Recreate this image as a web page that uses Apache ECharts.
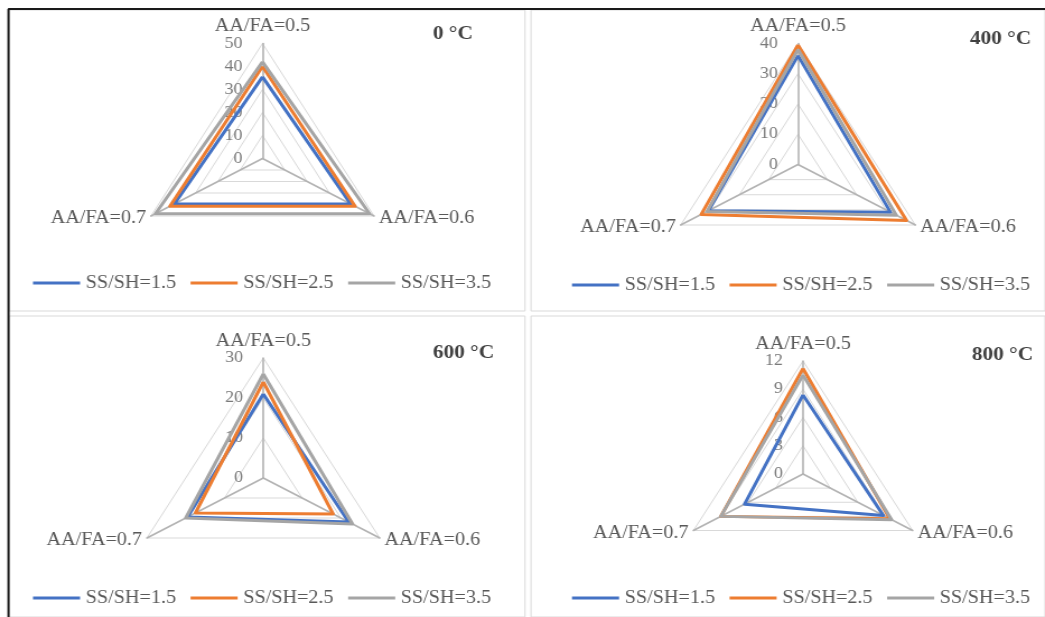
<!DOCTYPE html>
<html><head><meta charset="utf-8">
<script src="https://cdn.jsdelivr.net/npm/echarts@6/dist/echarts.min.js"></script>
<style>
html,body{margin:0;padding:0;background:#fff;overflow:hidden}
#wrap{width:1045px;height:617px;overflow:hidden;position:relative}
#c{width:933px;height:617px;transform:scaleX(1.12);transform-origin:0 0}
</style>
</head><body><div id="wrap"><div id="c"></div></div>
<script>
// ---- data (indicator order: AA/FA=0.5, AA/FA=0.6, AA/FA=0.7) ----
const indicatorNames = ['AA/FA=0.5', 'AA/FA=0.6', 'AA/FA=0.7'];
const seriesNames = ['SS/SH=1.5', 'SS/SH=2.5', 'SS/SH=3.5'];
const panelTitles = ['0 °C', '400 °C', '600 °C', '800 °C'];
const axisMax = [50, 40, 30, 12];
const axisSplit = [5, 4, 3, 4];

const t0_ss15 = [35.5, 39.5, 39.5];
const t0_ss25 = [40, 41.5, 41.5];
const t0_ss35 = [42, 48, 48];

const t400_ss15 = [36, 31.5, 30.5];
const t400_ss25 = [39.5, 37, 33];
const t400_ss35 = [38, 33.5, 31];

const t600_ss15 = [21, 22, 19.5];
const t600_ss25 = [24, 18, 17.5];
const t600_ss35 = [26, 23, 20];

const t800_ss15 = [8.4, 8.8, 6.4];
const t800_ss25 = [11.2, 9.5, 9];
const t800_ss35 = [10.5, 9.7, 9];

const panelData = [
  [t0_ss15, t0_ss25, t0_ss35],
  [t400_ss15, t400_ss25, t400_ss35],
  [t600_ss15, t600_ss25, t600_ss35],
  [t800_ss15, t800_ss25, t800_ss35]
];

// ---- layout (reference pixel coords; x divided by stretch S) ----
const S = 1.12;
const colors = ['#4472c4', '#ed7d31', '#a5a5a5'];
const font = '"Liberation Serif", "Times New Roman", serif';
const layout = [
  {cx: 262.5, cy: 158.5, r: 115, tx: 433, ty: 36, lx: 33, ly: 283},
  {cx: 798, cy: 164.5, r: 121, tx: 970, ty: 41, lx: 572, ly: 285},
  {cx: 263.3, cy: 478, r: 120, tx: 433, ty: 355, lx: 33, ly: 598},
  {cx: 803, cy: 474, r: 113, tx: 972, ty: 357, lx: 572, ly: 598}
];
// ECharts places indicators counterclockwise; Excel clockwise -> reorder
const order = [0, 2, 1];

const radar = [], series = [], title = [], legend = [];
layout.forEach(function (L, p) {
  radar.push({
    center: [L.cx / S, L.cy],
    radius: L.r,
    startAngle: 90,
    shape: 'polygon',
    splitNumber: axisSplit[p],
    indicator: order.map(function (k, i) {
      const ind = {name: indicatorNames[k], min: 0, max: axisMax[p]};
      if (i === 0) {
        ind.axisLabel = {show: true, margin: 18, color: '#7a7a7a', fontSize: 16, fontFamily: font};
      }
      return ind;
    }),
    axisName: {color: '#595959', fontSize: 18, fontFamily: font},
    nameGap: 5,
    axisLine: {lineStyle: {color: '#b3b3b3', width: 1.6}},
    splitLine: {lineStyle: {color: '#d9d9d9', width: 1}},
    splitArea: {show: false},
    axisTick: {show: false},
    axisLabel: {show: false}
  });
  panelData[p].forEach(function (arr, s) {
    series.push({
      type: 'radar',
      name: seriesNames[s],
      radarIndex: p,
      symbol: 'none',
      z: 2 + s,
      lineStyle: {color: colors[s], width: 3},
      itemStyle: {color: colors[s]},
      data: [{value: order.map(function (k) { return arr[k]; }), name: seriesNames[s]}]
    });
  });
  title.push({
    text: panelTitles[p],
    left: L.tx / S,
    top: L.ty - 11,
    padding: 0,
    textStyle: {fontFamily: font, fontSize: 19, fontWeight: 'bold', color: '#404040'}
  });
  legend.push({
    data: seriesNames.map(function (n, s) { return {name: n, itemStyle: {color: colors[s]}}; }),
    left: L.lx / S,
    top: L.ly - 10,
    padding: 0,
    icon: 'rect',
    itemWidth: 42,
    itemHeight: 3,
    itemGap: 13,
    selectedMode: false,
    textStyle: {fontFamily: font, fontSize: 18, color: '#595959', lineHeight: 20, padding: [0, 0, 0, 0]}
  });
});

// panel frames
const graphic = [
  {x0: 9, y0: 10, x1: 525, y1: 311},
  {x0: 531, y0: 10, x1: 1045, y1: 311},
  {x0: 9, y0: 316, x1: 525, y1: 617},
  {x0: 531, y0: 316, x1: 1045, y1: 617}
].map(function (b) {
  return {type: 'rect', silent: true, z: -10,
    shape: {x: b.x0 / S, y: b.y0, width: (b.x1 - b.x0) / S, height: b.y1 - b.y0},
    style: {fill: '#ffffff', stroke: '#d9d9d9', lineWidth: 1}};
});
graphic.push({type: 'line', silent: true, z: 10, shape: {x1: 8 / S, y1: 9, x2: 1045 / S, y2: 9}, style: {stroke: '#1a1a1a', lineWidth: 2}});
graphic.push({type: 'line', silent: true, z: 10, shape: {x1: 8.5 / S, y1: 9, x2: 8.5 / S, y2: 617}, style: {stroke: '#1a1a1a', lineWidth: 2}});

const chart = echarts.init(document.getElementById('c'), null, {renderer: 'canvas'});
chart.setOption({
  backgroundColor: '#ffffff',
  animation: false,
  title: title,
  legend: legend,
  radar: radar,
  series: series,
  graphic: graphic
});
</script>
</body></html>
